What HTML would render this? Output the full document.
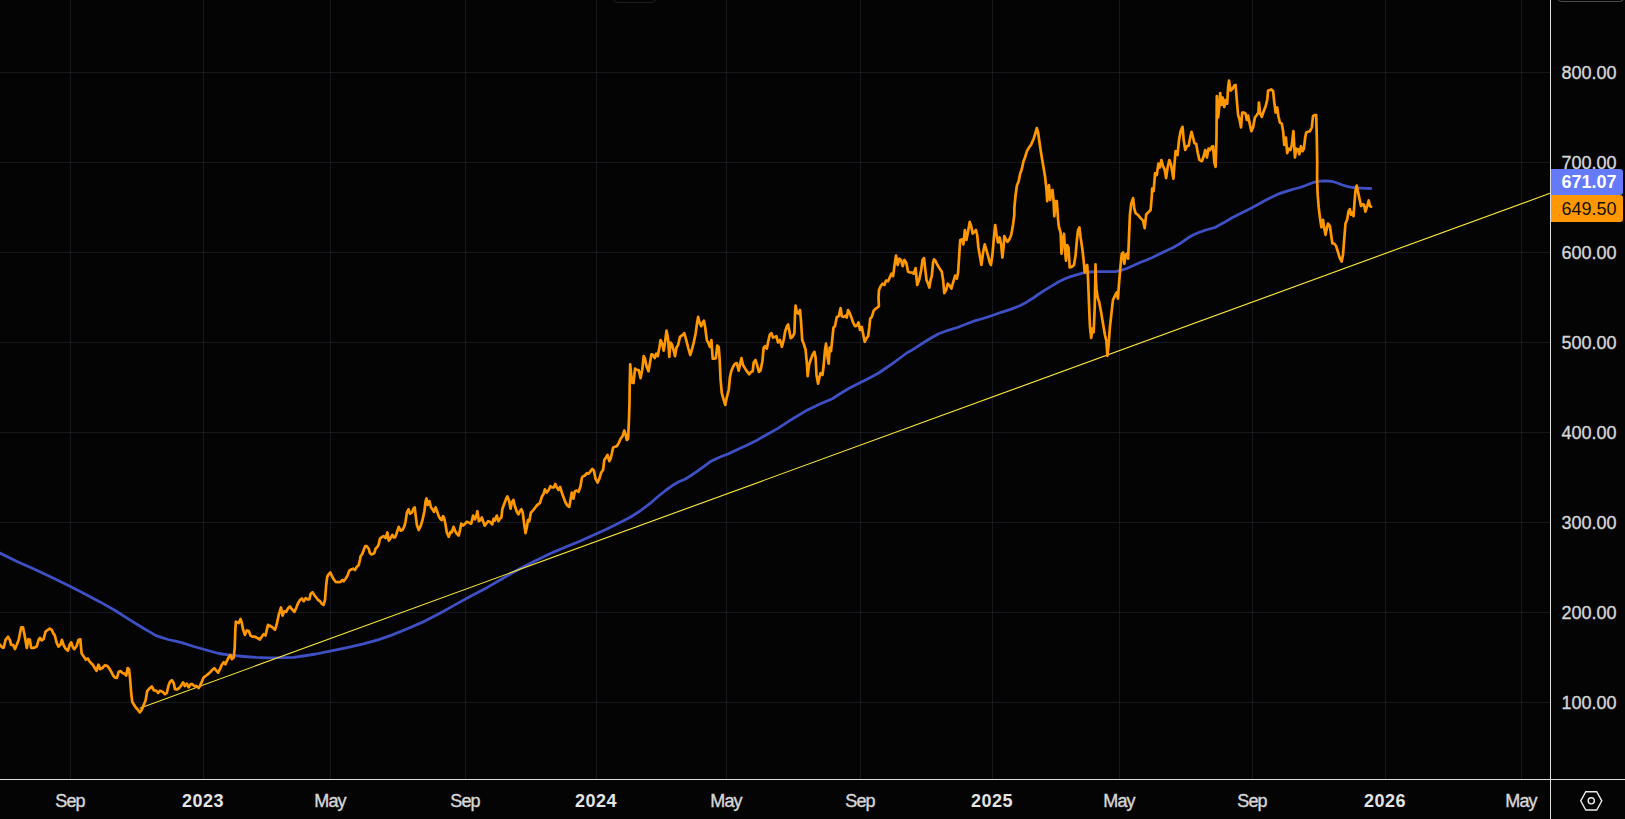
<!DOCTYPE html>
<html><head><meta charset="utf-8"><title>Chart</title>
<style>
html,body{margin:0;padding:0;background:#040404;}
body{width:1625px;height:819px;overflow:hidden;position:relative;font-family:"Liberation Sans",sans-serif;}
#chart{position:absolute;left:0;top:0;width:1625px;height:819px;}
.xl{position:absolute;top:790px;height:22px;line-height:22px;width:80px;margin-left:-40px;text-align:center;color:#d6d6d6;font-size:18px;letter-spacing:-0.8px;white-space:nowrap;-webkit-text-stroke:0.4px #d6d6d6;}
.xl.b{font-weight:bold;color:#e4e4e4;font-size:18px;letter-spacing:0.5px;-webkit-text-stroke:0;}
.yl{position:absolute;left:1552px;width:74px;height:22px;line-height:22px;margin-top:-10.5px;text-align:center;color:#d6d6d6;font-size:18px;-webkit-text-stroke:0.35px #d6d6d6;}
.tag{position:absolute;left:1551px;width:68px;padding-left:4px;text-align:center;font-size:18px;border-radius:0 3px 3px 0;}
</style></head><body>
<svg id="chart" width="1625" height="819" viewBox="0 0 1625 819">
<rect width="1625" height="819" fill="#040404"/>
<g stroke="rgba(42,46,57,0.47)" stroke-width="1" shape-rendering="crispEdges">
<line x1="70.5" y1="0" x2="70.5" y2="779"/>
<line x1="203.5" y1="0" x2="203.5" y2="779"/>
<line x1="330.5" y1="0" x2="330.5" y2="779"/>
<line x1="465.5" y1="0" x2="465.5" y2="779"/>
<line x1="596.5" y1="0" x2="596.5" y2="779"/>
<line x1="726.5" y1="0" x2="726.5" y2="779"/>
<line x1="860.5" y1="0" x2="860.5" y2="779"/>
<line x1="992.5" y1="0" x2="992.5" y2="779"/>
<line x1="1119.5" y1="0" x2="1119.5" y2="779"/>
<line x1="1252.5" y1="0" x2="1252.5" y2="779"/>
<line x1="1385.5" y1="0" x2="1385.5" y2="779"/>
<line x1="1521.5" y1="0" x2="1521.5" y2="779"/>
<line x1="0" y1="72.5" x2="1550" y2="72.5"/>
<line x1="0" y1="162.5" x2="1550" y2="162.5"/>
<line x1="0" y1="252.5" x2="1550" y2="252.5"/>
<line x1="0" y1="342.5" x2="1550" y2="342.5"/>
<line x1="0" y1="432.5" x2="1550" y2="432.5"/>
<line x1="0" y1="522.5" x2="1550" y2="522.5"/>
<line x1="0" y1="612.5" x2="1550" y2="612.5"/>
<line x1="0" y1="702.5" x2="1550" y2="702.5"/>
</g>
<rect x="613.5" y="-6" width="42" height="8.5" rx="4" fill="none" stroke="#1c1c1e" stroke-width="1.2"/>
<rect x="1557.9" y="-6" width="65.6" height="7.5" rx="4" fill="none" stroke="#4a4a4a" stroke-width="1.2"/>
<path d="M0.0,553.1 L17.0,561.5 L34.0,569.0 L52.0,577.5 L70.0,586.3 L85.0,594.0 L100.0,601.9 L116.0,611.0 L131.0,620.6 L143.0,628.0 L156.0,635.6 L168.0,639.5 L181.0,642.4 L193.7,646.5 L206.2,650.0 L218.7,653.5 L230.0,655.2 L243.7,656.5 L256.0,657.4 L268.6,657.8 L281.0,657.7 L293.6,657.3 L303.0,656.0 L316.0,654.0 L330.0,651.2 L346.0,647.8 L362.4,644.1 L378.0,639.8 L392.4,634.9 L408.0,628.5 L424.9,621.1 L440.0,613.2 L454.9,604.9 L471.0,596.0 L487.4,587.4 L503.0,578.2 L519.8,568.7 L535.0,561.0 L549.8,553.7 L565.0,547.3 L579.8,541.2 L592.0,535.8 L604.8,529.9 L617.0,524.0 L629.8,517.5 L640.0,511.0 L649.8,503.7 L658.0,496.5 L666.2,490.0 L672.0,485.8 L678.7,481.8 L685.0,479.3 L691.0,475.5 L697.4,471.2 L704.0,466.3 L710.0,461.8 L716.2,458.7 L722.0,456.2 L728.6,453.7 L738.0,449.2 L747.4,445.0 L757.5,439.9 L767.0,434.5 L777.5,428.6 L792.0,419.2 L807.5,409.9 L820.0,404.0 L832.4,398.7 L841.2,393.0 L850.0,387.8 L860.0,382.8 L869.0,378.2 L878.7,373.0 L886.0,368.0 L892.4,363.7 L900.0,358.0 L907.4,352.5 L911.2,350.6 L917.0,346.8 L923.7,342.5 L931.0,338.0 L938.7,333.7 L948.0,330.3 L957.4,327.5 L965.0,324.5 L973.6,321.2 L983.0,318.5 L992.3,315.5 L1001.2,312.3 L1009.8,309.6 L1019.8,305.8 L1026.2,302.4 L1032.0,298.8 L1037.4,295.0 L1044.0,290.6 L1051.1,286.4 L1058.7,281.8 L1065.0,278.8 L1071.2,276.4 L1082.5,273.2 L1089.8,272.0 L1096.2,271.6 L1105.0,271.6 L1115.0,271.6 L1121.0,270.4 L1127.4,268.2 L1134.0,265.2 L1140.0,262.5 L1146.0,260.2 L1152.4,257.5 L1158.0,254.8 L1165.0,251.2 L1172.4,248.0 L1178.0,244.8 L1183.7,241.0 L1188.7,237.5 L1193.0,235.0 L1198.7,232.5 L1206.0,230.0 L1215.0,227.5 L1224.0,222.6 L1232.5,217.5 L1241.0,213.2 L1250.0,208.7 L1257.0,205.0 L1265.0,200.6 L1271.0,197.4 L1277.4,194.4 L1283.0,192.4 L1288.7,190.6 L1294.0,189.0 L1299.9,187.5 L1305.0,185.7 L1309.9,183.7 L1314.0,182.3 L1317.4,181.5 L1321.0,181.1 L1324.9,181.0 L1329.0,181.2 L1332.4,181.5 L1337.4,183.0 L1342.4,185.0 L1347.0,186.3 L1352.4,187.5 L1357.0,187.9 L1361.1,188.1 L1366.0,188.3 L1370.8,188.5" fill="none" stroke="#3f4fc4" stroke-width="2.8" stroke-linejoin="round" stroke-linecap="round"/>
<line x1="139.7" y1="708.2" x2="1550" y2="193.3" stroke="#f5e43b" stroke-width="1.15"/>
<path d="M0.0,644.8 L1.9,647.3 L3.7,647.6 L5.6,639.8 L8.1,636.7 L10.0,640.4 L11.2,644.8 L13.1,644.8 L14.9,649.1 L16.8,644.8 L18.7,639.8 L21.2,627.3 L23.0,627.3 L24.9,636.7 L26.8,647.9 L28.4,639.2 L29.9,639.8 L31.1,647.9 L33.6,647.9 L36.7,646.6 L38.6,639.8 L39.9,637.9 L41.7,640.4 L43.6,639.2 L45.5,631.7 L47.9,629.8 L49.8,628.6 L51.7,629.8 L53.5,633.6 L54.8,635.4 L56.7,642.9 L58.5,646.6 L60.4,644.8 L61.9,639.8 L63.5,644.8 L65.4,648.5 L67.9,650.6 L69.7,644.8 L71.2,642.3 L72.9,647.3 L74.3,649.1 L76.6,646.0 L78.5,639.8 L80.3,639.4 L81.6,653.5 L83.4,656.0 L85.9,659.7 L87.8,658.5 L89.7,661.6 L91.5,663.5 L92.8,664.7 L94.6,667.8 L96.5,670.9 L98.4,664.7 L99.6,667.2 L100.0,669.2 L102.5,668.0 L105.0,665.2 L107.5,666.1 L109.4,668.6 L111.2,671.7 L113.1,675.5 L115.0,677.7 L116.9,678.0 L118.7,671.7 L120.6,671.1 L122.5,673.0 L124.4,673.6 L126.2,675.5 L127.7,668.0 L129.0,669.2 L130.0,678.0 L131.2,693.0 L132.2,701.7 L133.7,704.2 L135.6,707.3 L137.5,709.2 L139.7,712.3 L141.8,709.8 L143.5,705.4 L145.6,700.4 L147.2,691.1 L149.3,688.6 L151.8,686.5 L154.0,690.5 L156.2,690.7 L158.1,693.0 L160.0,690.7 L162.5,691.7 L165.0,694.2 L166.8,693.0 L168.5,685.5 L170.0,681.7 L171.8,680.2 L173.7,683.0 L175.0,689.2 L176.8,689.5 L179.3,688.0 L181.2,685.5 L183.1,682.3 L184.9,686.1 L186.8,683.6 L188.7,687.3 L190.6,684.2 L192.4,684.2 L194.3,686.1 L196.8,686.1 L198.7,688.0 L199.9,686.1 L201.8,681.7 L203.7,677.3 L206.2,675.5 L208.7,673.6 L210.6,671.7 L212.4,669.8 L214.3,668.2 L216.2,670.5 L218.1,672.7 L219.9,669.2 L221.8,664.8 L223.7,662.3 L225.5,664.2 L227.4,659.8 L229.3,656.1 L230.5,654.9 L231.8,659.2 L233.7,657.4 L234.7,648.0 L235.3,630.5 L235.9,621.7 L237.4,622.4 L238.7,623.0 L240.5,619.0 L241.8,623.0 L243.0,629.2 L244.9,634.9 L246.8,630.5 L248.7,631.1 L250.5,635.5 L252.4,636.7 L254.9,636.7 L257.4,638.0 L259.9,639.5 L261.8,636.7 L263.6,634.2 L265.5,635.5 L266.8,629.9 L268.0,624.9 L269.3,626.1 L270.0,625.6 L272.5,627.4 L275.0,629.9 L276.9,623.7 L278.7,614.9 L281.0,607.5 L282.5,615.6 L284.4,611.2 L286.2,611.8 L288.1,608.1 L290.0,606.5 L291.9,609.3 L294.4,611.8 L296.2,608.1 L298.1,603.1 L300.0,600.0 L301.9,598.5 L303.7,601.2 L305.6,598.1 L307.5,599.3 L309.4,599.3 L310.6,593.7 L312.5,592.2 L314.3,595.0 L316.2,597.5 L318.1,600.0 L320.0,601.2 L321.8,603.7 L323.5,605.0 L325.0,600.0 L326.2,585.0 L327.2,576.8 L328.7,574.3 L330.3,572.5 L331.8,575.6 L333.7,579.3 L335.6,581.8 L338.1,582.2 L340.6,581.8 L342.5,580.0 L343.7,581.2 L345.6,578.7 L347.5,575.6 L349.3,570.6 L351.2,569.4 L353.1,568.7 L354.9,570.0 L356.8,566.9 L358.7,565.0 L359.9,560.0 L360.6,556.2 L362.4,553.7 L363.7,550.0 L365.2,546.2 L366.8,546.2 L368.7,548.7 L369.9,553.1 L371.4,554.4 L373.1,553.7 L374.3,553.1 L375.6,548.7 L377.4,546.9 L378.7,544.4 L379.9,538.7 L381.8,536.9 L383.7,536.2 L385.6,538.1 L387.4,532.5 L388.7,540.6 L390.5,538.1 L392.4,535.0 L393.7,537.5 L395.0,537.4 L396.9,532.4 L398.7,526.8 L400.6,530.6 L402.5,530.0 L404.4,526.2 L405.6,521.2 L406.9,512.5 L408.5,509.3 L410.0,513.7 L411.9,512.5 L413.5,508.7 L414.7,507.5 L415.6,515.0 L416.9,525.0 L418.7,530.0 L420.6,526.2 L422.5,520.0 L424.4,511.2 L425.6,501.2 L426.5,498.5 L427.7,505.0 L429.4,501.2 L431.0,507.5 L432.5,509.3 L434.0,511.8 L435.6,507.5 L437.5,512.5 L438.7,516.2 L440.6,519.3 L441.8,520.0 L443.1,516.2 L444.3,518.7 L445.6,525.0 L446.8,532.4 L448.7,536.8 L450.6,531.8 L451.8,532.4 L453.5,526.8 L455.0,530.6 L456.8,533.7 L458.7,535.6 L460.0,530.0 L461.2,523.7 L463.1,525.6 L465.0,523.7 L466.8,521.8 L468.7,522.5 L471.2,523.7 L473.1,515.6 L475.0,519.3 L476.2,516.2 L477.4,511.2 L478.9,521.2 L480.6,520.0 L481.8,517.5 L483.1,521.2 L484.7,525.6 L486.2,523.7 L488.1,521.2 L489.9,521.8 L492.2,524.3 L493.7,518.7 L494.9,520.6 L496.8,515.6 L498.4,521.2 L499.9,518.7 L501.4,517.5 L502.4,508.7 L504.3,503.7 L506.2,498.7 L507.4,496.5 L508.9,500.0 L510.6,508.7 L511.8,502.5 L513.4,500.0 L514.9,506.2 L516.8,511.8 L518.4,514.3 L519.9,511.2 L521.4,509.3 L522.7,512.5 L524.3,525.0 L525.5,533.1 L526.8,527.5 L528.0,520.0 L529.3,521.2 L530.9,512.5 L532.4,511.2 L534.3,508.7 L536.2,506.2 L538.0,504.3 L539.9,503.1 L541.8,496.8 L543.7,493.7 L544.9,489.4 L546.8,492.5 L548.7,490.0 L550.5,486.2 L552.2,487.5 L553.7,487.5 L555.3,484.0 L556.8,487.5 L558.6,490.0 L560.1,486.9 L561.8,492.5 L563.6,497.5 L565.5,502.5 L567.4,505.6 L569.3,506.8 L570.5,500.0 L571.8,492.5 L573.4,498.7 L574.9,491.2 L576.8,490.6 L578.6,491.8 L580.5,486.2 L581.8,478.1 L583.0,476.2 L584.9,475.6 L586.8,473.1 L588.6,473.7 L590.5,471.2 L592.4,469.0 L593.9,470.6 L595.5,478.7 L597.6,482.5 L599.4,478.7 L601.2,472.5 L603.1,470.0 L604.3,460.0 L605.6,458.1 L607.5,455.0 L609.3,461.2 L610.6,458.7 L611.8,453.7 L613.1,447.5 L615.0,446.8 L616.8,446.2 L618.7,443.1 L620.6,438.7 L622.5,436.2 L624.3,430.6 L625.6,434.4 L626.8,440.0 L628.1,438.7 L629.0,418.7 L629.5,402.5 L629.7,385.0 L630.2,364.3 L631.9,382.5 L633.5,383.1 L635.0,368.7 L636.9,370.0 L638.7,370.0 L640.6,378.1 L642.2,370.0 L643.7,356.2 L645.0,358.7 L646.5,366.2 L648.5,371.2 L650.0,362.5 L651.5,354.3 L653.1,355.0 L654.7,358.1 L656.2,353.7 L657.7,356.2 L659.4,347.5 L660.6,340.0 L662.2,343.7 L663.7,350.6 L665.0,342.5 L666.5,330.6 L668.1,338.7 L669.3,356.8 L670.6,342.5 L672.2,345.0 L673.5,350.0 L675.0,356.2 L676.5,347.5 L678.1,345.0 L680.0,336.9 L681.8,335.6 L684.3,333.1 L686.2,340.0 L688.1,347.5 L690.2,355.0 L691.8,350.0 L693.7,342.5 L695.6,333.7 L696.8,325.0 L698.1,316.9 L699.3,321.9 L701.2,326.2 L702.7,322.5 L703.9,320.6 L705.2,327.5 L706.8,340.0 L708.7,343.7 L709.9,346.9 L711.4,340.0 L712.7,358.7 L714.3,358.7 L715.9,358.1 L717.2,345.6 L718.7,346.9 L719.7,360.0 L720.6,380.0 L721.8,393.1 L723.7,399.9 L725.2,404.9 L726.8,397.4 L728.7,390.0 L729.9,377.5 L731.2,371.2 L733.1,366.8 L734.9,363.7 L736.8,363.1 L738.7,370.6 L740.2,363.7 L741.4,358.1 L743.0,365.0 L744.9,368.1 L746.8,371.2 L749.3,374.3 L751.2,371.8 L752.7,371.2 L753.7,362.5 L755.5,360.0 L757.4,366.2 L758.9,371.8 L760.5,370.6 L762.4,361.2 L763.7,347.5 L765.2,346.2 L766.8,348.7 L768.0,342.5 L769.7,335.0 L771.4,333.1 L773.0,337.5 L774.7,336.9 L776.4,336.2 L778.0,342.5 L780.0,340.0 L781.9,346.8 L783.7,340.0 L785.2,331.2 L786.9,326.2 L788.1,324.4 L789.4,331.2 L790.6,338.1 L792.5,336.8 L794.4,333.1 L795.0,315.0 L795.6,305.6 L796.9,312.5 L798.5,313.7 L800.0,310.0 L801.0,321.2 L802.2,340.0 L803.7,343.7 L805.6,350.0 L806.9,363.7 L807.7,376.2 L809.0,365.0 L810.6,360.0 L812.5,355.0 L814.4,351.8 L815.6,357.5 L816.5,374.9 L818.1,383.7 L819.4,377.4 L820.6,373.1 L822.5,374.9 L823.7,365.0 L825.0,350.0 L826.0,343.7 L827.2,355.0 L828.7,363.7 L829.7,347.5 L831.0,351.2 L832.2,340.0 L833.5,327.5 L835.0,326.2 L836.8,316.9 L838.7,316.2 L840.6,308.1 L841.8,316.2 L843.7,316.9 L845.6,315.6 L846.8,317.5 L848.1,310.0 L849.7,313.1 L851.2,316.9 L853.1,322.5 L855.0,326.2 L856.8,325.6 L858.5,322.5 L860.0,330.0 L861.8,326.9 L863.1,333.7 L864.7,341.8 L866.2,338.7 L868.1,336.2 L869.3,327.5 L870.2,318.7 L871.8,316.9 L873.7,310.6 L875.6,308.7 L877.4,307.5 L878.9,306.2 L878.5,297.4 L879.0,290.0 L880.6,286.2 L882.5,283.7 L884.4,285.0 L886.0,280.6 L888.1,281.2 L889.7,277.5 L891.5,273.7 L893.1,276.2 L894.4,266.2 L896.0,255.6 L897.7,265.0 L899.4,258.7 L901.0,260.0 L902.7,266.2 L904.4,260.0 L906.2,262.5 L908.1,271.8 L910.0,272.5 L911.8,272.5 L913.7,273.7 L915.6,268.1 L917.2,285.0 L919.3,279.3 L921.2,270.0 L922.5,260.0 L924.0,258.1 L925.2,268.7 L926.5,280.0 L928.1,283.7 L929.3,287.5 L930.6,280.0 L931.8,276.2 L933.1,262.5 L934.0,259.3 L935.6,261.2 L937.5,265.0 L939.3,268.1 L941.8,271.8 L943.1,280.0 L944.3,293.1 L946.2,290.0 L947.7,283.7 L949.3,285.0 L951.4,288.7 L953.1,282.5 L955.2,275.6 L956.8,278.7 L958.1,272.5 L959.3,253.7 L960.2,240.0 L962.2,239.4 L963.4,244.4 L964.9,230.0 L966.4,240.0 L968.1,231.2 L969.7,221.9 L971.2,226.2 L972.7,233.7 L974.3,231.9 L975.9,230.0 L977.2,235.0 L978.4,247.5 L979.9,256.2 L981.4,265.0 L983.1,252.5 L984.7,244.4 L986.4,250.0 L988.1,256.2 L989.7,262.5 L990.9,265.0 L992.4,255.0 L993.7,240.0 L995.2,225.0 L996.4,233.7 L998.0,242.5 L999.7,237.5 L1001.2,245.0 L1002.4,257.5 L1003.7,246.2 L1004.3,236.2 L1006.2,240.0 L1007.4,241.9 L1009.3,239.4 L1011.2,235.0 L1013.0,225.0 L1014.3,215.0 L1014.4,207.4 L1015.6,195.0 L1016.9,185.6 L1018.7,181.2 L1020.0,174.3 L1021.9,168.7 L1023.5,161.2 L1025.0,157.5 L1026.9,151.2 L1028.7,148.1 L1031.2,144.4 L1033.7,138.7 L1035.6,132.5 L1036.8,128.1 L1038.1,132.5 L1039.3,141.2 L1041.2,153.7 L1043.1,165.0 L1045.0,176.2 L1046.5,190.0 L1047.2,201.2 L1048.1,190.0 L1049.0,185.0 L1050.2,200.0 L1051.2,191.2 L1052.5,190.0 L1053.5,200.0 L1054.3,216.2 L1055.6,201.2 L1056.8,201.2 L1058.1,219.9 L1059.0,227.5 L1060.6,232.5 L1061.5,253.7 L1062.7,240.0 L1064.0,233.7 L1065.0,250.0 L1066.0,260.6 L1067.2,245.0 L1068.5,247.5 L1069.7,267.5 L1071.9,266.8 L1074.0,265.0 L1075.6,255.0 L1076.9,240.0 L1078.1,230.0 L1079.4,227.5 L1080.6,237.5 L1082.5,250.0 L1083.7,261.2 L1084.7,272.4 L1086.0,266.2 L1087.2,265.0 L1088.1,279.9 L1088.4,288.7 L1088.9,301.1 L1089.9,326.0 L1091.2,337.9 L1092.4,328.5 L1093.7,332.3 L1094.7,307.4 L1095.3,280.0 L1095.5,264.4 L1095.9,280.0 L1096.4,288.7 L1097.6,297.4 L1099.3,302.4 L1101.1,312.3 L1103.0,323.5 L1104.9,334.8 L1106.4,341.0 L1107.4,355.9 L1108.6,344.7 L1109.9,327.3 L1111.7,311.1 L1113.0,299.9 L1114.8,296.2 L1116.7,292.4 L1117.9,298.6 L1119.3,279.9 L1120.6,265.0 L1121.8,253.7 L1123.1,252.5 L1124.3,263.7 L1125.6,255.0 L1126.8,253.7 L1128.1,258.7 L1128.9,240.0 L1129.9,215.0 L1131.2,203.7 L1133.1,198.1 L1134.3,208.7 L1135.6,213.1 L1138.1,215.0 L1140.6,218.1 L1143.1,220.6 L1144.7,228.1 L1146.2,214.4 L1148.1,212.5 L1150.6,210.0 L1151.8,196.2 L1152.1,188.7 L1153.6,191.2 L1155.1,173.1 L1156.8,175.0 L1158.4,163.7 L1159.9,167.5 L1161.4,160.0 L1163.0,166.2 L1164.6,169.3 L1166.1,178.1 L1167.6,167.5 L1169.3,160.0 L1171.1,165.0 L1173.4,178.7 L1174.4,164.9 L1175.6,151.2 L1177.5,155.0 L1179.0,140.0 L1180.6,131.2 L1182.5,126.8 L1183.7,140.0 L1185.2,150.0 L1186.9,146.2 L1188.7,145.6 L1190.2,137.5 L1191.5,131.8 L1193.1,137.5 L1194.4,143.1 L1196.2,143.7 L1197.7,152.5 L1199.4,159.9 L1201.9,161.2 L1203.7,156.2 L1205.2,150.0 L1206.9,157.4 L1208.5,148.7 L1210.0,150.0 L1211.8,146.8 L1213.1,146.2 L1214.3,162.4 L1215.6,166.8 L1216.5,137.5 L1216.8,96.2 L1218.1,117.5 L1219.3,106.2 L1220.2,93.1 L1221.5,105.0 L1222.7,97.5 L1224.3,106.9 L1225.6,100.0 L1227.2,103.7 L1228.1,87.5 L1229.0,80.6 L1230.6,90.6 L1232.5,88.7 L1234.3,85.6 L1235.6,85.0 L1236.8,100.0 L1238.1,115.0 L1239.7,120.0 L1241.0,127.5 L1242.2,112.5 L1243.7,112.5 L1245.6,113.7 L1246.8,120.0 L1248.1,115.6 L1250.0,125.0 L1251.4,131.2 L1253.1,127.5 L1254.9,117.5 L1256.8,115.0 L1258.4,112.5 L1258.9,102.5 L1260.2,113.7 L1261.8,116.8 L1263.7,111.2 L1265.6,106.2 L1267.2,100.0 L1268.1,90.6 L1269.9,90.0 L1271.4,89.4 L1273.1,91.2 L1274.3,102.5 L1275.6,112.5 L1277.2,107.5 L1278.4,116.2 L1279.9,122.5 L1281.8,123.7 L1283.1,131.2 L1284.3,145.0 L1285.9,137.5 L1287.2,153.1 L1288.7,148.7 L1290.5,150.0 L1291.8,145.0 L1293.4,131.2 L1294.9,157.4 L1296.4,148.7 L1298.0,149.3 L1299.3,154.3 L1300.9,146.2 L1302.4,151.2 L1303.9,148.7 L1305.2,137.5 L1306.2,132.5 L1308.0,131.8 L1309.9,131.2 L1311.8,127.5 L1313.0,116.2 L1314.7,115.0 L1316.2,115.0 L1316.8,137.5 L1317.2,162.4 L1317.1,177.5 L1317.2,182.5 L1317.7,194.9 L1318.7,207.4 L1319.9,217.3 L1321.4,227.3 L1323.0,219.8 L1324.3,228.5 L1325.5,234.8 L1326.8,228.5 L1328.0,223.5 L1329.9,226.0 L1331.1,234.8 L1332.4,243.5 L1334.2,243.5 L1336.1,246.0 L1338.0,252.2 L1339.9,258.4 L1341.7,261.5 L1343.0,254.7 L1344.2,239.7 L1345.5,223.5 L1347.1,219.8 L1348.6,211.1 L1349.8,209.2 L1351.1,214.8 L1352.3,212.3 L1353.5,216.1 L1354.5,202.4 L1355.4,191.2 L1356.7,185.6 L1357.9,191.2 L1359.2,197.4 L1361.0,206.1 L1362.9,204.2 L1364.1,204.9 L1365.4,211.7 L1367.2,206.1 L1368.7,200.5 L1370.0,206.1 L1371.0,206.7" fill="none" stroke="#ff9800" stroke-width="2.7" stroke-linejoin="round" stroke-linecap="round"/>
<rect x="0" y="779" width="1625" height="1" fill="#dedede"/>
<rect x="1550" y="0" width="1" height="819" fill="#dedede"/>
<g fill="none" stroke="#ececec" stroke-width="1.4" stroke-linejoin="miter"><path d="M1580.7,800.8 L1585.8,791.7 L1596.7,791.7 L1601.8,800.8 L1596.7,810 L1585.8,810 Z"/><circle cx="1591.25" cy="800.8" r="3.1"/></g>
</svg>
<div class="xl" style="left:70px">Sep</div>
<div class="xl b" style="left:203px">2023</div>
<div class="xl" style="left:330px">May</div>
<div class="xl" style="left:465px">Sep</div>
<div class="xl b" style="left:596px">2024</div>
<div class="xl" style="left:726px">May</div>
<div class="xl" style="left:860px">Sep</div>
<div class="xl b" style="left:992px">2025</div>
<div class="xl" style="left:1119px">May</div>
<div class="xl" style="left:1252px">Sep</div>
<div class="xl b" style="left:1385px">2026</div>
<div class="xl" style="left:1521px">May</div>
<div class="yl" style="top:72.5px">800.00</div>
<div class="yl" style="top:162.5px">700.00</div>
<div class="yl" style="top:252.5px">600.00</div>
<div class="yl" style="top:342.5px">500.00</div>
<div class="yl" style="top:432.5px">400.00</div>
<div class="yl" style="top:522.5px">300.00</div>
<div class="yl" style="top:612.5px">200.00</div>
<div class="yl" style="top:702.5px">100.00</div>
<div class="tag" style="top:169px;height:26px;line-height:27.5px;background:#647afa;color:#fff;font-weight:bold;">671.07</div>
<div class="tag" style="top:195px;height:27px;line-height:28px;background:#ff9800;color:#15120a;">649.50</div>
</body></html>
